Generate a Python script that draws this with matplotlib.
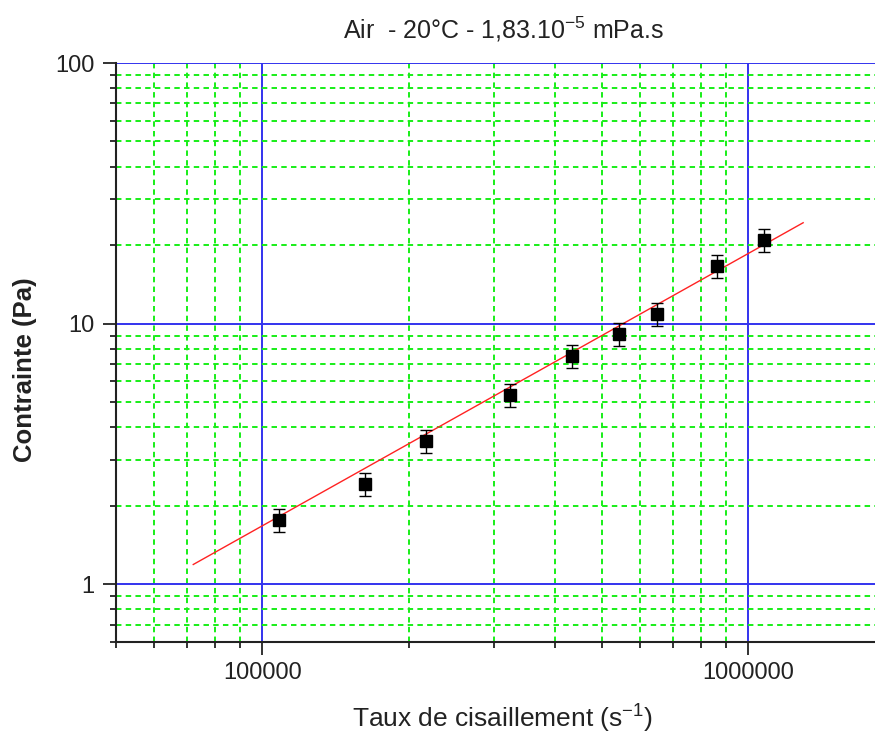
import matplotlib
matplotlib.use("Agg")
import matplotlib.pyplot as plt
import numpy as np
from matplotlib.ticker import LogLocator, FixedLocator, NullFormatter

plt.rcParams['font.family'] = ['Liberation Sans', 'DejaVu Sans']

# Data
shear_rate = [108400, 162700, 217200, 324000, 433000, 543000, 650000, 863000, 1079000]
stress = [1.76, 2.42, 3.55, 5.33, 7.53, 9.15, 10.9, 16.6, 20.9]
stress_err = [0.176, 0.242, 0.355, 0.533, 0.753, 0.915, 1.09, 1.66, 2.09]

# Power-law fit: stress = coef * rate^expo
fit_coef = 1.19 / (72100 ** 1.045)
fit_expo = 1.045
fit_range = [72100, 1297000]

x_ticks = [100000, 1000000]
x_ticklabels = ["100000", "1000000"]
y_ticks = [1, 10, 100]
y_ticklabels = ["1", "10", "100"]

fig = plt.figure(figsize=(8.75, 7.34), dpi=100)
ax = fig.add_axes([116/875, (734-642)/734, 1 - 116/875, (642-63)/734])
ax.set_xscale('log')
ax.set_yscale('log')
ax.set_xlim(50000, 10 ** (6 + 127/487))
ax.set_ylim(0.6, 100)

ax.xaxis.set_major_locator(FixedLocator(x_ticks))
ax.set_xticklabels(x_ticklabels)
ax.yaxis.set_major_locator(FixedLocator(y_ticks))
ax.set_yticklabels(y_ticklabels)
ax.xaxis.set_minor_locator(LogLocator(base=10, subs=np.arange(2, 10)))
ax.yaxis.set_minor_locator(LogLocator(base=10, subs=np.arange(2, 10)))
ax.xaxis.set_minor_formatter(NullFormatter())
ax.yaxis.set_minor_formatter(NullFormatter())

ax.grid(which='minor', color='#18ee18', linestyle=(0, (2.8, 2.2)), linewidth=1.4, zorder=0)
ax.grid(which='major', color='#3333ee', linestyle='-', linewidth=1.4, zorder=1)
ax.set_axisbelow(True)

for s in ['top', 'right']:
    ax.spines[s].set_visible(False)
for s in ['left', 'bottom']:
    ax.spines[s].set_linewidth(1.5)
    ax.spines[s].set_color('#222222')

ax.tick_params(axis='y', which='major', pad=6)
ax.tick_params(axis='x', which='major', pad=5)
ax.tick_params(which='major', direction='out', length=9.5, width=1.3, labelsize=17, colors='#222222')
ax.tick_params(which='minor', direction='out', length=4.5, width=1.3, colors='#222222')

fx = np.logspace(np.log10(fit_range[0]), np.log10(fit_range[1]), 50)
ax.plot(fx, fit_coef * fx ** fit_expo, color='#ff2222', linewidth=1.0, zorder=3)

ax.errorbar(shear_rate, stress, yerr=stress_err, fmt='s', color='black', markersize=9.2,
            ecolor='black', elinewidth=1.0, capsize=4.2, capthick=1.0, zorder=4)

fig.text(0.575, 1 - 38/734, r"Air  - 20°C - 1,83.10$^{\mathregular{-5}}$ mPa.s", ha='center', va='baseline',
         fontsize=18, color='#222222')
fig.text(502.5/875, 7/734, r"Taux de cisaillement (s$^{\mathregular{-1}}$)", ha='center', va='baseline',
         fontsize=19, color='#222222')
fig.text(25/875, (734-370)/734, "Contrainte (Pa)", ha='center', va='center', rotation=90,
         fontsize=18.5, fontweight='bold', color='#222222')

fig.savefig('out.png', dpi=100)
